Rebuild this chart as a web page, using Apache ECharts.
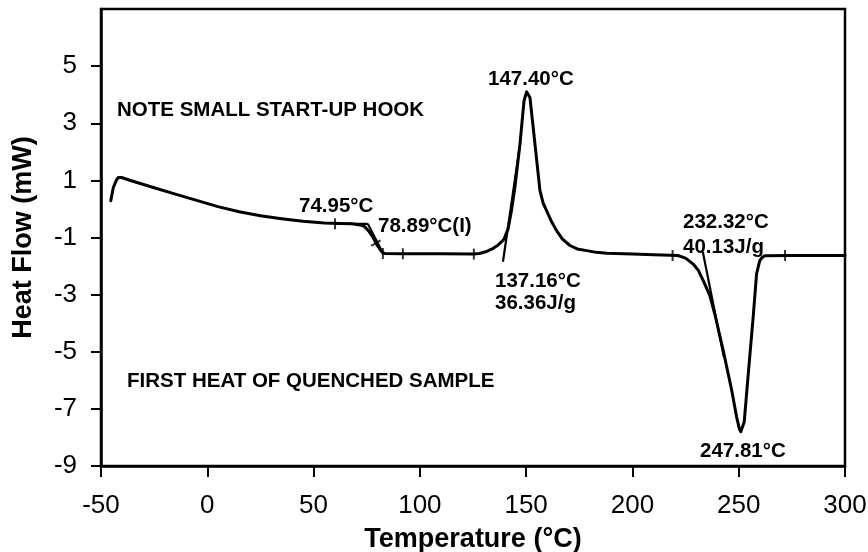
<!DOCTYPE html>
<html>
<head>
<meta charset="utf-8">
<script src="https://cdn.jsdelivr.net/npm/echarts@6/dist/echarts.min.js"></script>
<style>html,body{margin:0;padding:0;background:#fff}#c{width:868px;height:552px}</style>
</head>
<body>
<div id="c"></div>
<script>
// Main DSC trace: temperature (°C) and heat flow (mW)
var temps = [-45.4,-44.8,-44.2,-42.8,-41.9,-40.3,-35,-25,-15,-5,5,15,25,35,45,55,62,68,72,74,76,78,80,82,83.5,92,110,125,128,131,134,137,139.5,141.5,143,144.7,147.1,149,150.2,151.8,153,156.5,158,159.6,162,164.3,167,170.6,174,178.5,183,188,200,210,221.4,225,228.6,231,233.3,236.4,238.7,242.7,246.7,249,250.3,251,251.7,252.6,254.5,256.8,258.4,259.9,261,262.3,275,290,300];
var heatFlow = [0.29,0.52,0.75,1.0,1.1,1.1,0.97,0.74,0.52,0.3,0.08,-0.1,-0.24,-0.34,-0.43,-0.49,-0.51,-0.52,-0.56,-0.62,-0.78,-1.0,-1.28,-1.5,-1.56,-1.57,-1.57,-1.58,-1.56,-1.5,-1.4,-1.25,-1.07,-0.7,-0.1,0.75,2.27,3.78,4.1,3.9,3.07,0.64,0.2,-0.06,-0.45,-0.76,-1.05,-1.28,-1.4,-1.46,-1.52,-1.55,-1.58,-1.6,-1.63,-1.72,-1.93,-2.15,-2.51,-3.03,-3.67,-4.95,-6.35,-7.28,-7.7,-7.8,-7.75,-7.45,-5.77,-3.79,-2.27,-1.81,-1.7,-1.64,-1.63,-1.63,-1.63];

// Construction lines (onset / tangent lines)
var glassBaseX = [60.1, 75.5];
var glassBaseY = [-0.52, -0.52];
var glassTanX = [75.5, 83.0];
var glassTanY = [-0.52, -1.6];
var exoTanX = [139.1, 146.8];
var exoTanY = [-1.85, 2.1];
var endoTanX = [233.1, 243.0];
var endoTanY = [-1.5, -5.18];

// Small marker ticks on the trace
var markX = [60.1, 82.6, 92.0, 125.4, 218.9, 271.8];
var markY = [-0.52, -1.56, -1.57, -1.58, -1.63, -1.63];
var inflX = [79.3];
var inflY = [-1.2];

// Axis ticks
var xTicks = [-50, 0, 50, 100, 150, 200, 250, 300];
var yTicks = [-9, -7, -5, -3, -1, 1, 3, 5];

function pairs(xs, ys) { return xs.map(function (x, i) { return [x, ys[i]]; }); }

var FONT = 'Liberation Sans, Arial, Helvetica, sans-serif';
var chart = echarts.init(document.getElementById('c'), null, {renderer: 'canvas'});

function txt(t, x, y) {
  return {type: 'text', x: x, y: y, silent: true,
    style: {text: t, fill: '#000', fontSize: 20.5, fontWeight: 'bold', fontFamily: FONT, align: 'left', verticalAlign: 'middle'}};
}

function tanSeries(xs, ys) {
  return {type: 'line', data: pairs(xs, ys), symbol: 'none', silent: true,
    lineStyle: {color: '#000', width: 2.2}, z: 3};
}

chart.setOption({
  animation: false,
  backgroundColor: '#fff',
  grid: {left: 101, right: 23, top: 9, bottom: 86, outerBoundsMode: 'none', containLabel: false,
    show: true, borderColor: '#000', borderWidth: 2.5, backgroundColor: 'transparent'},
  xAxis: {
    type: 'value', min: -50, max: 300, interval: 50,
    name: 'Temperature (°C)', nameLocation: 'middle', nameGap: 60,
    nameTextStyle: {fontSize: 27, fontWeight: 'bold', color: '#000', fontFamily: FONT},
    axisLine: {show: true, onZero: false, lineStyle: {color: '#000', width: 2.5}},
    axisTick: {show: true, inside: false, length: 11, lineStyle: {color: '#000', width: 2}, customValues: xTicks},
    axisLabel: {fontSize: 26, color: '#000', fontFamily: FONT, margin: 27, customValues: xTicks},
    splitLine: {show: false}
  },
  yAxis: {
    type: 'value', min: -9, max: 7, interval: 2,
    name: 'Heat Flow (mW)', nameLocation: 'middle', nameGap: 64, nameRotate: 90,
    nameTextStyle: {fontSize: 27, fontWeight: 'bold', color: '#000', fontFamily: FONT},
    axisLine: {show: true, onZero: false, lineStyle: {color: '#000', width: 2.5}},
    axisTick: {show: true, inside: false, length: 10, lineStyle: {color: '#000', width: 2}, customValues: yTicks},
    axisLabel: {fontSize: 26, color: '#000', fontFamily: FONT, margin: 24, customValues: yTicks},
    splitLine: {show: false}
  },
  series: [
    {type: 'line', data: pairs(temps, heatFlow), symbol: 'none', smooth: false,
      lineStyle: {color: '#000', width: 3, join: 'round', cap: 'round'}, z: 4, silent: true},
    tanSeries(glassBaseX, glassBaseY),
    tanSeries(glassTanX, glassTanY),
    tanSeries(exoTanX, exoTanY),
    tanSeries(endoTanX, endoTanY),
    {type: 'scatter', data: pairs(markX, markY), symbol: 'rect', symbolSize: [2, 11],
      itemStyle: {color: '#000'}, silent: true, z: 5},
    {type: 'scatter', data: pairs(inflX, inflY), symbol: 'rect', symbolSize: [2, 11], symbolRotate: -60,
      itemStyle: {color: '#000'}, silent: true, z: 5}
  ],
  graphic: [
    txt('NOTE SMALL START-UP HOOK', 117, 110),
    txt('FIRST HEAT OF QUENCHED SAMPLE', 127, 381),
    txt('74.95°C', 299, 206),
    txt('78.89°C(I)', 378, 226),
    txt('147.40°C', 488, 79),
    txt('137.16°C', 495, 281),
    txt('36.36J/g', 495, 303),
    txt('232.32°C', 683, 222),
    txt('40.13J/g', 683, 247),
    txt('247.81°C', 700, 451)
  ]
});
</script>
</body>
</html>
